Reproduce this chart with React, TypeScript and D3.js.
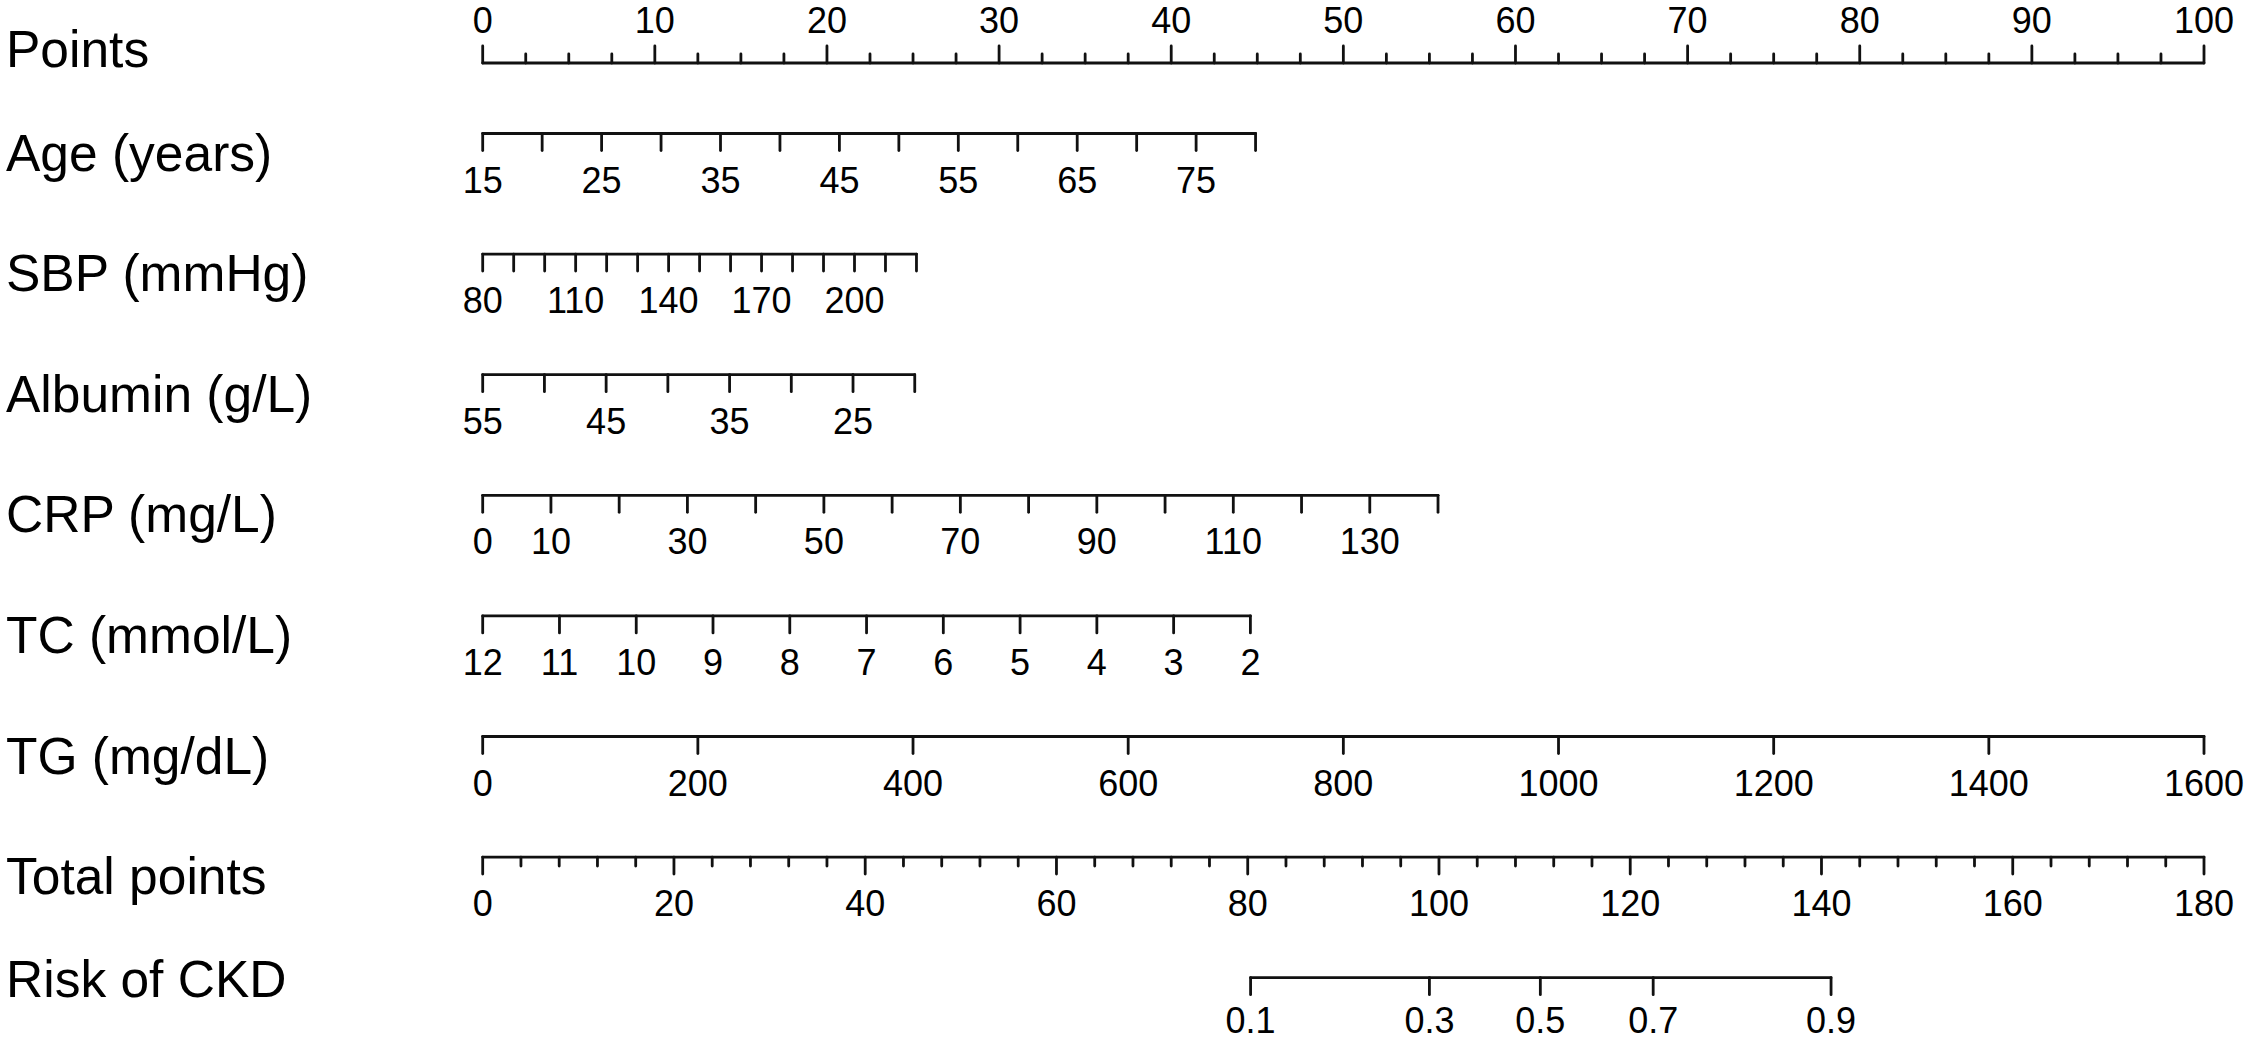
import React from "react";
import * as d3 from "d3";

// ---- Data ----
const pointsMajor = [0, 10, 20, 30, 40, 50, 60, 70, 80, 90, 100];
const pointsMinorStep = 2.5;

const rowNames = [
  "Points",
  "Age (years)",
  "SBP (mmHg)",
  "Albumin (g/L)",
  "CRP (mg/L)",
  "TC (mmol/L)",
  "TG (mg/dL)",
  "Total points",
  "Risk of CKD",
];

// variable axes: value domain -> points range
const ageDomain = [15, 80];
const agePoints = [0, 44.9];
const ageTicks = [15, 20, 25, 30, 35, 40, 45, 50, 55, 60, 65, 70, 75, 80];
const ageLabels = [15, 25, 35, 45, 55, 65, 75];

const sbpDomain = [80, 220];
const sbpPoints = [0, 25.2];
const sbpTicks = [80, 90, 100, 110, 120, 130, 140, 150, 160, 170, 180, 190, 200, 210, 220];
const sbpLabels = [80, 110, 140, 170, 200];

const albDomain = [55, 20];
const albPoints = [0, 25.1];
const albTicks = [55, 50, 45, 40, 35, 30, 25, 20];
const albLabels = [55, 45, 35, 25];

const crpDomain = [0, 140];
const crpPoints = [0, 55.5];
const crpTicks = [0, 10, 20, 30, 40, 50, 60, 70, 80, 90, 100, 110, 120, 130, 140];
const crpLabels = [0, 10, 30, 50, 70, 90, 110, 130];

const tcDomain = [12, 2];
const tcPoints = [0, 44.6];
const tcTicks = [12, 11, 10, 9, 8, 7, 6, 5, 4, 3, 2];
const tcLabels = [12, 11, 10, 9, 8, 7, 6, 5, 4, 3, 2];

const tgDomain = [0, 1600];
const tgPoints = [0, 100];
const tgTicks = [0, 200, 400, 600, 800, 1000, 1200, 1400, 1600];
const tgLabels = [0, 200, 400, 600, 800, 1000, 1200, 1400, 1600];

const totalDomain = [0, 180];
const totalMajor = [0, 20, 40, 60, 80, 100, 120, 140, 160, 180];
const totalMinorStep = 4;

const riskTicks = [0.1, 0.3, 0.5, 0.7, 0.9];
const riskTotalPoints = [80.3, 99.0, 110.6, 122.4, 141.0];

// ---- Layout ----
const W = 2250;
const H = 1042;
const X0 = 482.7;
const X1 = 2204;
const POINTS_LINE_Y = 63;
const FIRST_ROW_Y = 133.5;
const ROW_STEP = 120.6;
const MAJOR = 17;
const MINOR = 9;
const TICK_FS = 36;
const NAME_FS = 51.5;
const STROKE = "#111";
const SW = 2.8;
const FONT = "'Liberation Sans', Arial, Helvetica, sans-serif";

const xPoints = d3.scaleLinear().domain([0, 100]).range([X0, X1]);
const xTotal = d3.scaleLinear().domain(totalDomain).range([X0, X1]);

type Axis = {
  scale: (v: number) => number;
  ticks: number[];
  labels: number[];
  labelDy?: number;
};

function varAxis(domain: number[], pts: number[], ticks: number[], labels: number[]): Axis {
  const s = d3
    .scaleLinear()
    .domain(domain)
    .range([xPoints(pts[0]), xPoints(pts[1])]);
  return { scale: s, ticks, labels };
}

const variableAxes: Axis[] = [
  varAxis(ageDomain, agePoints, ageTicks, ageLabels),
  varAxis(sbpDomain, sbpPoints, sbpTicks, sbpLabels),
  varAxis(albDomain, albPoints, albTicks, albLabels),
  varAxis(crpDomain, crpPoints, crpTicks, crpLabels),
  varAxis(tcDomain, tcPoints, tcTicks, tcLabels),
  varAxis(tgDomain, tgPoints, tgTicks, tgLabels),
];

const riskScale = (p: number) => xTotal(riskTotalPoints[riskTicks.indexOf(p)]);

function BelowAxis({ y, axis }: { y: number; axis: Axis }) {
  const xs = axis.ticks.map((t) => axis.scale(t));
  const lo = d3.min(xs) as number;
  const hi = d3.max(xs) as number;
  const dy = axis.labelDy ?? 59;
  return (
    <g>
      <line x1={lo} x2={hi} y1={y} y2={y} stroke={STROKE} strokeWidth={SW} strokeLinecap="round" />
      {axis.ticks.map((t, i) => (
        <line key={"t" + i} x1={axis.scale(t)} x2={axis.scale(t)} y1={y} y2={y + MAJOR} stroke={STROKE} strokeWidth={SW} strokeLinecap="round" />
      ))}
      {axis.labels.map((t, i) => (
        <text key={"l" + i} x={axis.scale(t)} y={y + dy} textAnchor="middle" fontSize={TICK_FS} fontFamily={FONT} fill="#000">
          {String(t)}
        </text>
      ))}
    </g>
  );
}

export default function App() {
  const pointsMinor = d3.range(0, 100 + 1e-9, pointsMinorStep).filter((v) => v % 10 !== 0);
  const totalMinor = d3.range(0, 180 + 1e-9, totalMinorStep).filter((v) => v % 20 !== 0);
  const rowY = (i: number) => FIRST_ROW_Y + (i - 1) * ROW_STEP; // i = 1..8
  const nameBaseline = (i: number) => {
    if (i === 0) return 67;
    if (i === 8) return 997;
    return rowY(i) + 37;
  };
  const totalY = rowY(7);
  const riskY = rowY(8);

  return (
    <svg
      width={W}
      height={H}
      viewBox={`0 0 ${W} ${H}`}
      style={{ position: "absolute", left: 0, top: 0, background: "#fff" }}
    >
      <rect x={0} y={0} width={W} height={H} fill="#fff" />
      {rowNames.map((n, i) => (
        <text key={n} x={6} y={nameBaseline(i)} fontSize={NAME_FS} fontFamily={FONT} fill="#000">
          {n}
        </text>
      ))}

      {/* Points axis */}
      <g>
        <line x1={xPoints(0)} x2={xPoints(100)} y1={POINTS_LINE_Y} y2={POINTS_LINE_Y} stroke={STROKE} strokeWidth={SW} strokeLinecap="round" />
        {pointsMajor.map((t) => (
          <line key={"pm" + t} x1={xPoints(t)} x2={xPoints(t)} y1={POINTS_LINE_Y} y2={POINTS_LINE_Y - MAJOR} stroke={STROKE} strokeWidth={SW} strokeLinecap="round" />
        ))}
        {pointsMinor.map((t) => (
          <line key={"pn" + t} x1={xPoints(t)} x2={xPoints(t)} y1={POINTS_LINE_Y} y2={POINTS_LINE_Y - MINOR} stroke={STROKE} strokeWidth={SW} strokeLinecap="round" />
        ))}
        {pointsMajor.map((t) => (
          <text key={"pl" + t} x={xPoints(t)} y={POINTS_LINE_Y - 30} textAnchor="middle" fontSize={TICK_FS} fontFamily={FONT} fill="#000">
            {t}
          </text>
        ))}
      </g>

      {variableAxes.map((a, i) => (
        <BelowAxis key={i} y={rowY(i + 1)} axis={a} />
      ))}

      {/* Total points */}
      <g>
        <line x1={xTotal(0)} x2={xTotal(180)} y1={totalY} y2={totalY} stroke={STROKE} strokeWidth={SW} strokeLinecap="round" />
        {totalMajor.map((t) => (
          <line key={"tm" + t} x1={xTotal(t)} x2={xTotal(t)} y1={totalY} y2={totalY + MAJOR} stroke={STROKE} strokeWidth={SW} strokeLinecap="round" />
        ))}
        {totalMinor.map((t) => (
          <line key={"tn" + t} x1={xTotal(t)} x2={xTotal(t)} y1={totalY} y2={totalY + MINOR} stroke={STROKE} strokeWidth={SW} strokeLinecap="round" />
        ))}
        {totalMajor.map((t) => (
          <text key={"tl" + t} x={xTotal(t)} y={totalY + 59} textAnchor="middle" fontSize={TICK_FS} fontFamily={FONT} fill="#000">
            {t}
          </text>
        ))}
      </g>

      {/* Risk */}
      <BelowAxis y={riskY} axis={{ scale: riskScale, ticks: riskTicks, labels: riskTicks, labelDy: 55 }} />
    </svg>
  );
}
